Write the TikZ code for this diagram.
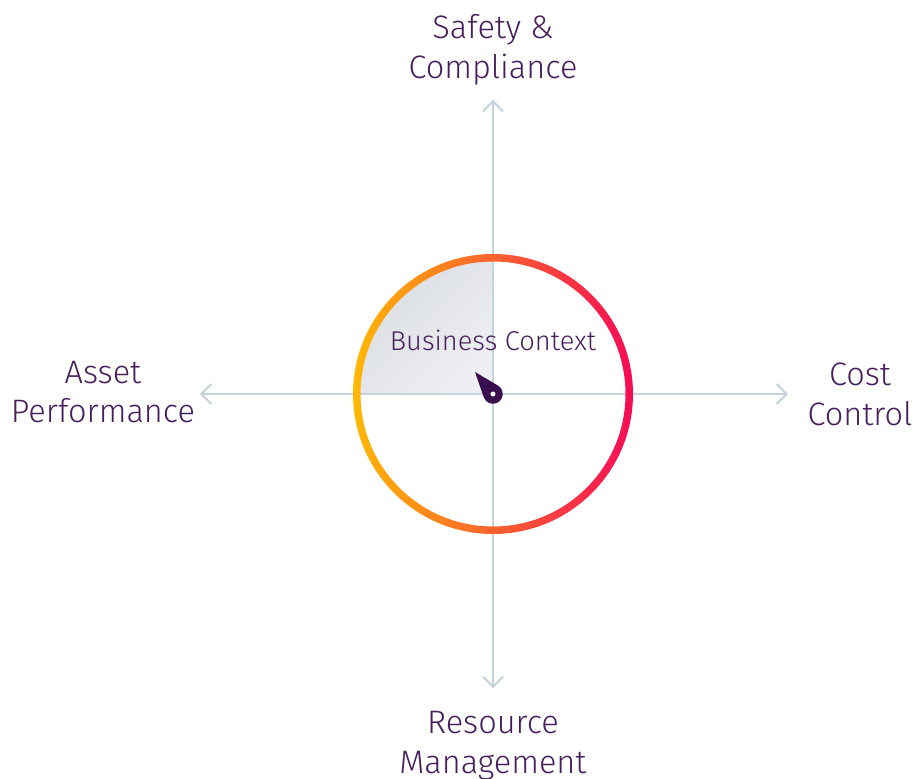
\documentclass[tikz,border=0pt]{standalone}
\usepackage{fontspec}
\setmainfont{Fira Sans Light}
\usetikzlibrary{arrows.meta, positioning}

\definecolor{axisgray}{HTML}{C5D3DB}
\definecolor{txtpurple}{HTML}{47205B}
\definecolor{needle}{HTML}{3A0F4F}
\definecolor{ringL}{HTML}{FFB805}
\definecolor{ringM}{HTML}{FF6130}
\definecolor{ringR}{HTML}{F70C57}
\definecolor{quadDark}{HTML}{D9DCE1}
\definecolor{quadLight}{HTML}{EDEFF2}

\begin{document}
\begin{tikzpicture}[x=0.02cm, y=0.02cm,
    axis/.style={draw=axisgray, line width=0.04cm, line cap=round, -{Straight Barb[length=0.2cm, width=0.4cm, line width=0.04cm]}},
    label/.style={text=txtpurple, font=\fontsize{18.5}{22.7}\selectfont, align=center, inner sep=0pt},
    every node/.style={inner sep=0pt}]

    \useasboundingbox (-493,-384) rectangle (420,394);

    \coordinate (c) at (0,0);
    \coordinate (n) at (0,294);
    \coordinate (s) at (0,-294);
    \coordinate (w) at (-293,0);
    \coordinate (e) at (295,0);

    \shade[top color=quadDark, bottom color=quadLight, shading angle=45]
        (c) -- (-136,0) arc[start angle=180, end angle=90, radius=136] -- cycle;

    \draw[axis] (c) -- (n);
    \draw[axis] (c) -- (s);
    \draw[axis] (c) -- (w);
    \draw[axis] (c) -- (e);

    \shade[left color=ringL, middle color=ringM, right color=ringR, even odd rule]
        (c) circle (140) (c) circle (132.5);

    \node (ctx) [label, font=\fontsize{15.5}{18}\selectfont] at (0,54) {Business Context};

    \fill[needle] (-18,22) -- (199.8:9.8) arc[start angle=199.8, end angle=418.8, radius=9.8] -- cycle;
    \fill[white] (c) circle (2.5);

    \node (safety) [label] at (0,344.5) {Safety \&\\Compliance};
    \node (resource) [label] at (0,-352) {Resource\\Management};
    \node (asset) [label] at (-390,2) {Asset\\Performance};
    \node (cost) [label] at (367,0) {Cost\\Control};
\end{tikzpicture}
\end{document}
